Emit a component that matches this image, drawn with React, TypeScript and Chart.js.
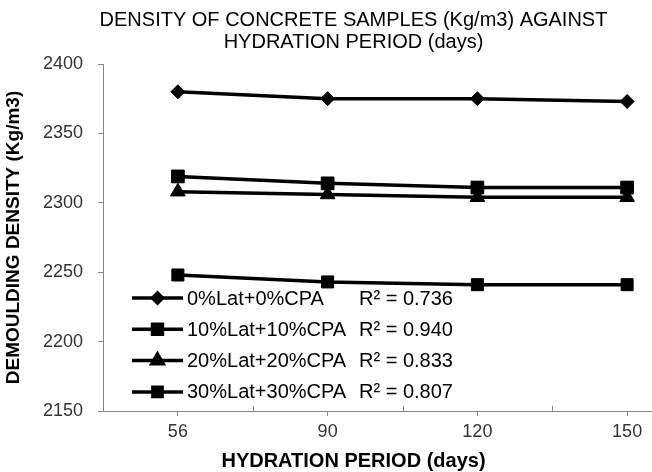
import React, { useEffect, useRef } from 'react';
import { Chart, registerables } from 'chart.js';
import { drawPoint } from 'chart.js/helpers';

Chart.register(...registerables);

const categories = ['56', '90', '120', '150'];
const seriesNames = ['0%Lat+0%CPA', '10%Lat+10%CPA', '20%Lat+20%CPA', '30%Lat+30%CPA'];
const rSquared = ['0.736', '0.940', '0.833', '0.807'];
const lat0 = [2380, 2375, 2375, 2373];
const lat10 = [2319, 2314, 2311, 2311];
const lat20 = [2308, 2306, 2304, 2304];
const lat30 = [2248, 2243, 2241, 2241];
const yMin = 2150;
const yMax = 2400;
const yStep = 50;

const titleLines = ['DENSITY OF CONCRETE SAMPLES (Kg/m3) AGAINST', 'HYDRATION PERIOD (days)'];
const xTitle = 'HYDRATION PERIOD (days)';
const yTitle = 'DEMOULDING DENSITY (Kg/m3)';

const FONT = "'Liberation Sans', Arial, sans-serif";
const AXIS = '#878787';
const TICK_TEXT = '#333333';

const pointStyles = ['rectRot', 'rect', 'triangle', 'rect'];
const pointRadii = [7, 9, 8.5, 8.5];
const legendRadii = [5, 7, 6.5, 6.5];

const innerTicksPlugin = {
  id: 'innerTicks',
  afterDraw(chart: any) {
    const xs = chart.scales.x;
    const { ctx, chartArea } = chart;
    ctx.save();
    ctx.strokeStyle = AXIS;
    ctx.lineWidth = 1;
    for (let i = 0; i < categories.length - 1; i++) {
      const px = Math.round((xs.getPixelForValue(i) + xs.getPixelForValue(i + 1)) / 2) + 0.5;
      ctx.beginPath();
      ctx.moveTo(px, chartArea.bottom);
      ctx.lineTo(px, chartArea.bottom - 5);
      ctx.stroke();
    }
    ctx.restore();
  },
};

const insideLegendPlugin = {
  id: 'insideLegend',
  afterDatasetsDraw(chart: any) {
    const { ctx, chartArea } = chart;
    const x0 = chartArea.left + 29;
    const rowGap = 31.3;
    const firstY = chartArea.bottom - 113;
    chart.data.datasets.forEach((ds: any, i: number) => {
      const y = firstY + i * rowGap;
      ctx.save();
      ctx.strokeStyle = '#000';
      ctx.lineWidth = 3.5;
      ctx.beginPath();
      ctx.moveTo(x0, y);
      ctx.lineTo(x0 + 51, y);
      ctx.stroke();
      ctx.fillStyle = '#000';
      ctx.strokeStyle = '#000';
      drawPoint(ctx, { pointStyle: ds.pointStyle, radius: legendRadii[i], borderWidth: 1, rotation: 0 } as any, x0 + 25.5, y);
      ctx.font = `20px ${FONT}`;
      ctx.textBaseline = 'middle';
      ctx.textAlign = 'left';
      ctx.fillStyle = '#000';
      ctx.fillText(seriesNames[i], x0 + 55, y + 1);
      ctx.fillText('R² = ' + rSquared[i], chartArea.left + 256, y + 1);
      ctx.restore();
    });
  },
};

export default function App() {
  const ref = useRef<HTMLCanvasElement | null>(null);

  useEffect(() => {
    if (!ref.current) return;
    const series = [lat0, lat10, lat20, lat30];
    const chart = new Chart(ref.current, {
      type: 'line',
      data: {
        labels: categories,
        datasets: series.map((vals, i) => ({
          label: seriesNames[i],
          data: vals,
          borderColor: '#000',
          backgroundColor: '#000',
          borderWidth: 3.5,
          pointStyle: pointStyles[i] as any,
          pointRadius: pointRadii[i],
          pointBackgroundColor: '#000',
          pointBorderColor: '#000',
          pointBorderWidth: 1,
          tension: 0,
          fill: false,
        })),
      },
      options: {
        animation: false,
        responsive: false,
        layout: { padding: { left: 0, right: 5, top: 0, bottom: 0 } },
        plugins: {
          legend: { display: false },
          tooltip: { enabled: false },
          title: {
            display: true,
            text: titleLines,
            color: '#000',
            font: { family: FONT, size: 20, weight: 'normal', lineHeight: 1.1 },
            padding: { top: 9, bottom: 11 },
          },
          subtitle: {
            display: true,
            position: 'bottom',
            text: xTitle,
            color: '#000',
            font: { family: FONT, size: 20, weight: 'bold', lineHeight: 1.1 },
            padding: { top: 0, bottom: 0 },
          },
        },
        scales: {
          x: {
            type: 'category',
            offset: true,
            grid: {
              display: true,
              drawOnChartArea: false,
              drawTicks: true,
              tickLength: 5,
              color: AXIS,
              offset: false,
            },
            border: { display: true, color: AXIS, width: 1 },
            ticks: {
              color: TICK_TEXT,
              font: { family: FONT, size: 18 },
              padding: 5,
              maxRotation: 0,
              autoSkip: false,
            },
            afterFit: (scale: any) => {
              scale.height = 39;
            },
          },
          y: {
            min: yMin,
            max: yMax,
            grid: {
              display: true,
              drawOnChartArea: false,
              drawTicks: true,
              tickLength: 5,
              color: AXIS,
            },
            border: { display: true, color: AXIS, width: 1 },
            ticks: {
              stepSize: yStep,
              color: TICK_TEXT,
              font: { family: FONT, size: 18 },
              padding: 15,
              callback: (v: any) => String(v),
            },
            title: {
              display: true,
              text: yTitle,
              color: '#000',
              font: { family: FONT, size: 19, weight: 'bold', lineHeight: 1.1 },
              padding: { top: 3, bottom: 0 },
            },
            afterFit: (scale: any) => {
              scale.width = 103;
            },
          },
        },
      },
      plugins: [innerTicksPlugin, insideLegendPlugin],
    });
    return () => chart.destroy();
  }, []);

  return (
    <div style={{ position: 'fixed', left: 0, top: 0, width: 652, height: 472, overflow: 'hidden', background: '#fff' }}>
      <canvas ref={ref} width={712} height={472} style={{ width: 712, height: 472, display: 'block' }} />
    </div>
  );
}
